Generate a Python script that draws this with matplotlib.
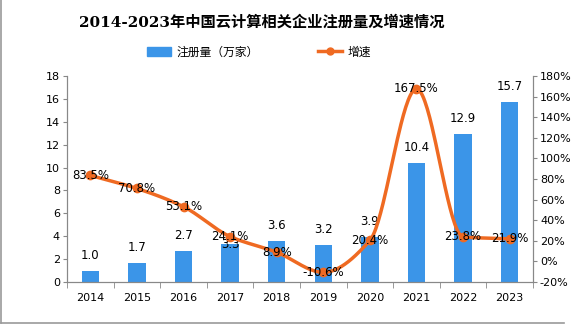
import numpy as np
import matplotlib
matplotlib.use("Agg")
import matplotlib.pyplot as plt
from matplotlib.lines import Line2D
from matplotlib.patches import Patch

plt.rcParams['font.family'] = ['DejaVu Sans', 'Noto Sans CJK SC']

years = ['2014', '2015', '2016', '2017', '2018', '2019', '2020', '2021', '2022', '2023']
registrations = [1.0, 1.7, 2.7, 3.3, 3.6, 3.2, 3.9, 10.4, 12.9, 15.7]
growth = [83.5, 70.8, 53.1, 24.1, 8.9, -10.6, 20.4, 167.5, 23.8, 21.9]
left_ticks = list(range(0, 19, 2))
right_ticks = list(range(-20, 181, 20))

title = '2014-2023年中国云计算相关企业注册量及增速情况'
bar_label = '注册量（万家）'
line_label = '增速'

bar_color = '#3b95e8'
line_color = '#ef6a22'


def pchip_curve(xs, ys, n=40):
    """Monotone (Fritsch-Carlson) cubic Hermite curve through the points."""
    xs = np.asarray(xs, float)
    ys = np.asarray(ys, float)
    h = np.diff(xs)
    d = np.diff(ys) / h
    m = np.zeros_like(ys)
    for i in range(1, len(ys) - 1):
        if d[i - 1] * d[i] > 0:
            w1 = 2 * h[i] + h[i - 1]
            w2 = h[i] + 2 * h[i - 1]
            m[i] = (w1 + w2) / (w1 / d[i - 1] + w2 / d[i])
    m[0] = d[0]
    m[-1] = d[-1]
    ox, oy = [], []
    t = np.linspace(0, 1, n)
    for i in range(len(xs) - 1):
        h00 = 2 * t ** 3 - 3 * t ** 2 + 1
        h10 = t ** 3 - 2 * t ** 2 + t
        h01 = -2 * t ** 3 + 3 * t ** 2
        h11 = t ** 3 - t ** 2
        ox.extend(xs[i] + t * h[i])
        oy.extend(h00 * ys[i] + h10 * h[i] * m[i] + h01 * ys[i + 1] + h11 * h[i] * m[i + 1])
    return np.array(ox), np.array(oy)


fig = plt.figure(figsize=(5.76, 3.27), dpi=100)
ax = fig.add_axes([67 / 576, 1 - 282 / 327, (533 - 67) / 576, (282 - 76) / 327])
x = np.arange(len(years))
ax.bar(x, registrations, width=0.37, color=bar_color, zorder=2)
ax.set_xlim(-0.5, len(years) - 0.5)
ax.set_ylim(0, 18)
ax.set_yticks(left_ticks)
ax.set_xticks(x)
ax.set_xticklabels(years, fontsize=8)
ax.set_xticks(np.arange(-0.5, len(years), 1), minor=True)
ax.tick_params(axis='x', which='major', length=0, pad=8)
ax.tick_params(axis='x', which='minor', length=4, color='#888888')
ax.tick_params(axis='y', labelsize=8, length=3, color='#888888', pad=2)
ax.spines['top'].set_visible(False)
for s in ['left', 'right', 'bottom']:
    ax.spines[s].set_color('#888888')

for i, (xi, v) in enumerate(zip(x, registrations)):
    off = 0.0 if i == 3 else 1.35
    ax.text(xi, v + off, f'{v:.1f}', ha='center', va='center', fontsize=8.5, zorder=5)

ax2 = ax.twinx()
ax2.set_ylim(-20, 180)
ax2.set_yticks(right_ticks)
ax2.set_yticklabels([f'{t}%' for t in right_ticks])
ax2.tick_params(axis='y', labelsize=8, length=3, color='#888888', pad=2)
ax2.spines['top'].set_visible(False)
for s in ['left', 'right', 'bottom']:
    ax2.spines[s].set_color('#888888')
cx, cy = pchip_curve(x, growth)
ax2.plot(cx, cy, color=line_color, lw=2.5, zorder=3, solid_capstyle='round')
ax2.plot(x, growth, 'o', color=line_color, ms=6, zorder=4)
for xi, g in zip(x, growth):
    ax2.text(xi, g, f'{g}%', ha='center', va='center', fontsize=8.5, zorder=6)

fig.text(0.455, 1 - 22 / 327, title, ha='center', va='center', fontsize=11, fontweight='bold',
         family=['DejaVu Serif', 'Noto Sans CJK SC'])

handles = [Patch(color=bar_color), Line2D([0], [0], color=line_color, lw=2.5, marker='o', ms=5)]
fig.legend(handles, [bar_label, line_label], loc='center', bbox_to_anchor=(0.45, 1 - 52 / 327),
           ncol=2, frameon=False, fontsize=8.5, columnspacing=5.0, handlelength=2.0, handletextpad=0.5)

fig.add_artist(Line2D([0.001, 0.001], [0.012, 1], transform=fig.transFigure, color='#9a9a9a', lw=1.2))
fig.add_artist(Line2D([0.001, 0.98], [0.012, 0.012], transform=fig.transFigure, color='#9a9a9a', lw=1.2))

fig.savefig('out.png', dpi=100)
